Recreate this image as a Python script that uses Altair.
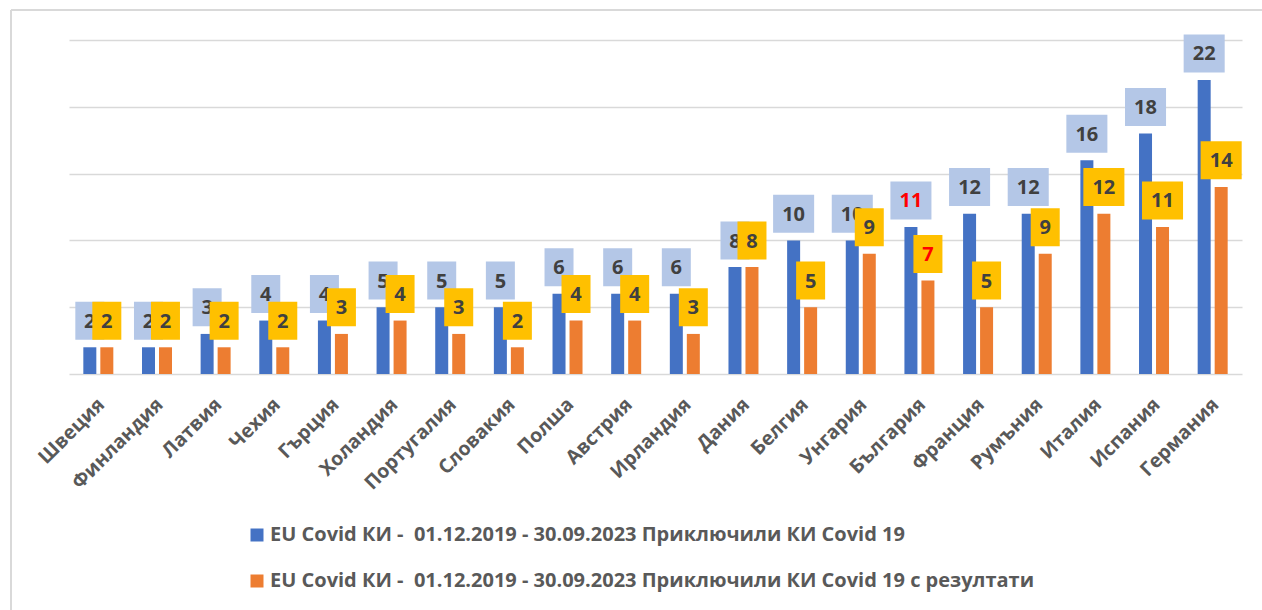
import altair as alt
import pandas as pd

countries = ["Швеция", "Финландия", "Латвия", "Чехия", "Гърция", "Холандия",
             "Португалия", "Словакия", "Полша", "Австрия", "Ирландия", "Дания",
             "Белгия", "Унгария", "България", "Франция", "Румъния", "Италия",
             "Испания", "Германия"]
completed = [2, 2, 3, 4, 4, 5, 5, 5, 6, 6, 6, 8, 10, 10, 11, 12, 12, 16, 18, 22]
with_results = [2, 2, 2, 2, 3, 4, 3, 2, 4, 4, 3, 8, 5, 9, 7, 5, 9, 12, 11, 14]

# the no-break space keeps the double gap after the dash from collapsing
series_names = [
    "EU Covid КИ -\u00a0 01.12.2019 - 30.09.2023 Приключили КИ Covid 19",
    "EU Covid КИ -\u00a0 01.12.2019 - 30.09.2023 Приключили КИ Covid 19 с резултати",
]
highlight = "България"

BLUE, ORANGE = "#4472C4", "#ED7D31"
BLUE_BOX, YELLOW_BOX = "#B4C7E7", "#FFC000"
TEXT_DARK, AXIS_GRAY, GRID = "#404040", "#595959", "#D9D9D9"
FONT = "Open Sans"

df = pd.DataFrame({"country": countries, "a": completed, "b": with_results})

base = alt.Chart(df)
x = alt.X("country:N", sort=None,
          scale=alt.Scale(paddingInner=0.4, paddingOuter=0.2),
          axis=alt.Axis(title=None, labelAngle=315, labelFontSize=19.5,
                        labelFontWeight="bold", labelColor=AXIS_GRAY,
                        labelFont=FONT, domain=False, ticks=False,
                        labelPadding=27, labelOffset=3, labelAlign="right",
                        labelBaseline="middle"))
yscale = alt.Scale(domain=[0, 25], nice=False)
y_axis = alt.Axis(title=None, values=[0, 5, 10, 15, 20, 25], labels=False,
                  ticks=False, domain=False, grid=True, gridColor=GRID,
                  gridWidth=1.5)
color_scale = alt.Scale(domain=series_names, range=[BLUE, ORANGE])
legend = alt.Legend(title=None, orient="none", legendX=178, legendY=485,
                    direction="vertical", symbolType="square", symbolSize=169,
                    symbolStrokeWidth=0, labelFont=FONT, labelFontSize=20,
                    labelFontWeight="bold", labelColor=AXIS_GRAY,
                    labelLimit=2000, rowPadding=26, labelOffset=3)

OFF = 8.5
LIFT = -26.6
box_shape = ("datum.v >= 10 ? 'M-1.08,-1H1.08V1H-1.08Z' "
             ": 'M-0.763,-1H0.763V1H-0.763Z'")


def bars(field, dx, name):
    return base.transform_calculate(series=f"'{name}'").mark_bar(
        width=13, xOffset=dx
    ).encode(
        x=x,
        y=alt.Y(f"{field}:Q", scale=yscale, axis=y_axis),
        color=alt.Color("series:N", scale=color_scale, legend=legend),
    )


def boxes(field, dx, fill):
    return base.transform_calculate(v=f"datum.{field}", box=box_shape).mark_point(
        filled=True, opacity=1, fill=fill, strokeWidth=0, size=1444,
        xOffset=dx, yOffset=LIFT,
    ).encode(
        x=x,
        y=alt.Y(f"{field}:Q", scale=yscale),
        shape=alt.Shape("box:N", scale=None),
    )


def labels(field, dx):
    return base.mark_text(
        font=FONT, fontSize=20, fontWeight="bold", xOffset=dx, dy=LIFT + 1,
        baseline="middle", align="center",
    ).encode(
        x=x,
        y=alt.Y(f"{field}:Q", scale=yscale),
        text=alt.Text(f"{field}:Q"),
        color=alt.condition(alt.datum.country == highlight,
                            alt.value("#FF0000"), alt.value(TEXT_DARK)),
    )


frame = alt.Chart(df).mark_rule(color=GRID, strokeWidth=2).encode(
    x=alt.value(-58), x2=alt.value(1300), y=alt.value(-30), y2=alt.value(-30)
) + alt.Chart(df).mark_rule(color=GRID, strokeWidth=2).encode(
    x=alt.value(-58), x2=alt.value(-58), y=alt.value(-30), y2=alt.value(700)
)

chart = alt.layer(
    frame,
    bars("a", -OFF, series_names[0]),
    bars("b", OFF, series_names[1]),
    boxes("a", -OFF, BLUE_BOX),
    labels("a", -OFF),
    boxes("b", OFF, YELLOW_BOX),
    labels("b", OFF),
).properties(
    width=1173, height=334,
    padding={"left": 69, "top": 40, "right": 20, "bottom": 236},
    autosize=alt.AutoSizeParams(type="none"),
).configure_view(stroke=None)

chart.save("out.html", embed_options={"renderer": "svg", "actions": False})
